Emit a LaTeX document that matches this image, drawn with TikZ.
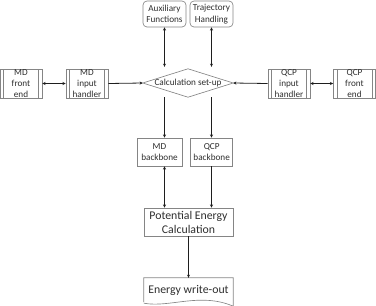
\documentclass[tikz,border=0pt]{standalone}
\usepackage{fontspec}
\setmainfont{Carlito}
\usetikzlibrary{arrows.meta}
\definecolor{boxline}{HTML}{858585}
\definecolor{txt}{HTML}{2E2E2E}
\definecolor{arr}{HTML}{1E1E1E}
\begin{document}
\begin{tikzpicture}[x=1pt,y=-1pt,
  every node/.style={text=txt, font=\fontsize{9.2}{11.3}\selectfont, align=center, inner sep=0pt},
  box/.style={draw=boxline, line width=0.65pt, minimum width=#1, minimum height=28pt},
  box/.default=43pt,
  roundbox/.style={box, rounded corners=4pt, minimum height=26pt},
  procbox/.style={box=42pt, minimum height=29pt,
    path picture={
      \draw[boxline, line width=0.65pt]
        ([xshift=3.5pt]path picture bounding box.north west) -- ([xshift=3.5pt]path picture bounding box.south west)
        ([xshift=-3.5pt]path picture bounding box.north east) -- ([xshift=-3.5pt]path picture bounding box.south east);}},
  bigtext/.style={font=\fontsize{11.8}{14}\selectfont},
  shapeline/.style={draw=boxline, line width=0.65pt},
  conn/.style={draw=arr, line width=0.8pt, -{Stealth[length=3.2pt,width=3pt]}},
  biconn/.style={draw=arr, line width=0.8pt, {Stealth[length=3.2pt,width=3pt]}-{Stealth[length=3.2pt,width=3pt]}}
]
\useasboundingbox (0,0) rectangle (376,306);

% top helper modules
\node[roundbox] (aux) at (164.5,14) {Auxiliary\\Functions};
\node[roundbox] (traj) at (211.5,14) {Trajectory\\Handling};

% central decision
\node[minimum width=90pt, minimum height=28pt] (dia) at (188,83) {Calculation set-up};
\path[shapeline] (dia.west) -- (dia.north) -- (dia.east) -- (dia.south) -- cycle;

% front ends and input handlers
\node[procbox] (mdfe) at (21,83.5) {MD\\front\\end};
\node[procbox] (mdih) at (87,83.5) {MD\\input\\handler};
\node[procbox] (qcpih) at (289,83.5) {QCP\\input\\handler};
\node[procbox] (qcpfe) at (354.5,83.5) {QCP\\front\\end};

% backbones
\node[box=45pt] (mdbb) at (159.5,152) {MD\\backbone};
\node[box=42pt] (qcpbb) at (211.7,152) {QCP\\backbone};

% energy calculation and output
\node[box=89pt, bigtext] (pe) at (188.5,222) {Potential Energy\\Calculation};
\node[minimum width=89pt, minimum height=24pt, bigtext] (ew) at (188.5,290) {Energy write-out};
\path[shapeline] (ew.south west) -- (ew.north west) -- (ew.north east) -- ([yshift=-4pt]ew.south east)
  .. controls (200,292) and (170,308) .. ([yshift=-1pt]ew.south west);

% connectors
\path[biconn] (aux.south) -- ([yshift=2pt]aux.south |- dia.north);
\path[biconn] (traj.south) -- ([yshift=2pt]traj.south |- dia.north);
\path[biconn] (mdfe.east) -- (mdih.west);
\path[conn] (mdih.east) -- (dia.west);
\path[conn] (qcpih.west) -- (dia.east);
\path[biconn] (qcpih.east) -- (qcpfe.west);
\path[conn] (aux.south |- dia.south) -- (aux.south |- mdbb.north);
\path[conn] (traj.south |- dia.south) -- (traj.south |- qcpbb.north);
\path[biconn] (aux.south |- mdbb.south) -- (aux.south |- pe.north);
\path[conn] (traj.south |- qcpbb.south) -- (traj.south |- pe.north);
\path[conn] (pe.south) -- (ew.north);
\end{tikzpicture}
\end{document}
